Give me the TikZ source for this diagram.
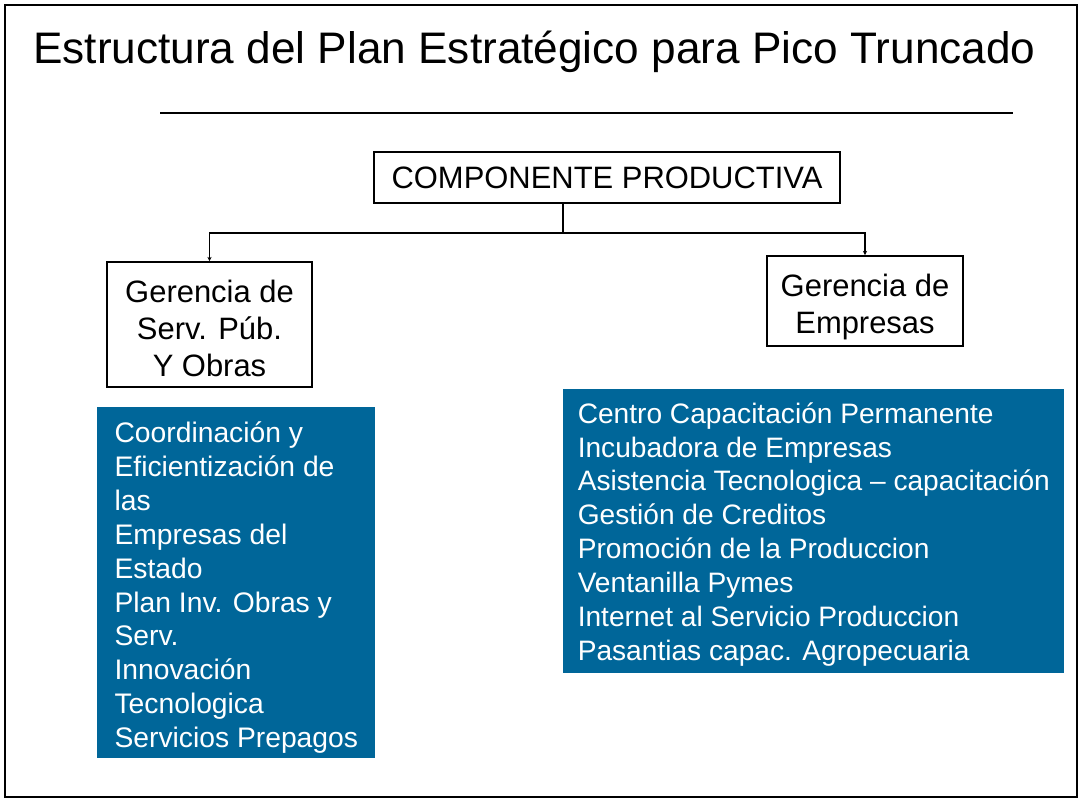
\documentclass[tikz,border=0pt]{standalone}
\usepackage{fontspec}
\setmainfont{Liberation Sans}
\usetikzlibrary{arrows.meta,positioning}
\definecolor{azul}{RGB}{0,102,153}
% taller first line, moves the text block down a little
\newcommand{\toprule}[1]{\rule{0pt}{#1}}

\begin{document}
\begin{tikzpicture}[x=0.025cm, y=-0.025cm,
    box/.style={draw, line width=1.3pt, align=center, inner sep=0pt,
      font=\fontsize{22}{26.3}\selectfont},
    bluebox/.style={fill=azul, text=white, align=left, anchor=north west,
      inner xsep=17*0.025cm, inner ysep=0pt,
      font=\fontsize{20.1}{24.1}\selectfont},
    arrow/.style={-{Stealth[length=3pt,width=3pt]}, line width=1.3pt}
  ]
    \useasboundingbox (0,0) rectangle (1079,801);
    \draw[line width=1.4pt, fill=white] (5,5) rectangle (1077,797);

    \node[anchor=base west, inner sep=0pt, font=\fontsize{31.4}{36}\selectfont]
      (title) at (33,64) {Estructura del Plan Estratégico para Pico Truncado};
    \draw[line width=1.3pt] (160,113) coordinate (ruleL) -- (1013,113) coordinate (ruleR);

    \node[box, minimum width=11.65cm, minimum height=1.275cm] (comp) at (607,177.5)
      {COMPONENTE PRODUCTIVA};
    \node[box, minimum width=5.125cm, minimum height=3.125cm] (gsp) at (209.5,324.5)
      {\toprule{22pt}Gerencia de\\Serv. Púb.\\Y Obras};
    \node[box, minimum width=4.9cm, minimum height=2.25cm] (gemp) at (865,301)
      {\toprule{24.5pt}Gerencia de\\Empresas};

    \coordinate (fork) at (563,233);
    \draw[line width=1.3pt] (comp.south -| fork) -- (fork);
    \draw[arrow] (fork) -| (gsp.north);
    \draw[arrow] (fork) -| (gemp.north);

    \node[bluebox, minimum width=6.95cm, minimum height=8.775cm] (lista1) at (97,407)
      {\toprule{21.6pt}Coordinación y\\Eficientización de\\las\\Empresas del\\Estado\\Plan Inv. Obras y\\Serv.\\Innovación\\Tecnologica\\Servicios Prepagos};
    \node[bluebox, minimum width=12.525cm, minimum height=7.1cm, inner xsep=14*0.025cm,
      font=\fontsize{20}{24.1}\selectfont] (lista2) at (563,389)
      {\toprule{19pt}Centro Capacitación Permanente\\Incubadora de Empresas\\Asistencia Tecnologica -- capacitación\\Gestión de Creditos\\Promoción de la Produccion\\Ventanilla Pymes\\Internet al Servicio Produccion\\Pasantias capac. Agropecuaria};
  \end{tikzpicture}
\end{document}
